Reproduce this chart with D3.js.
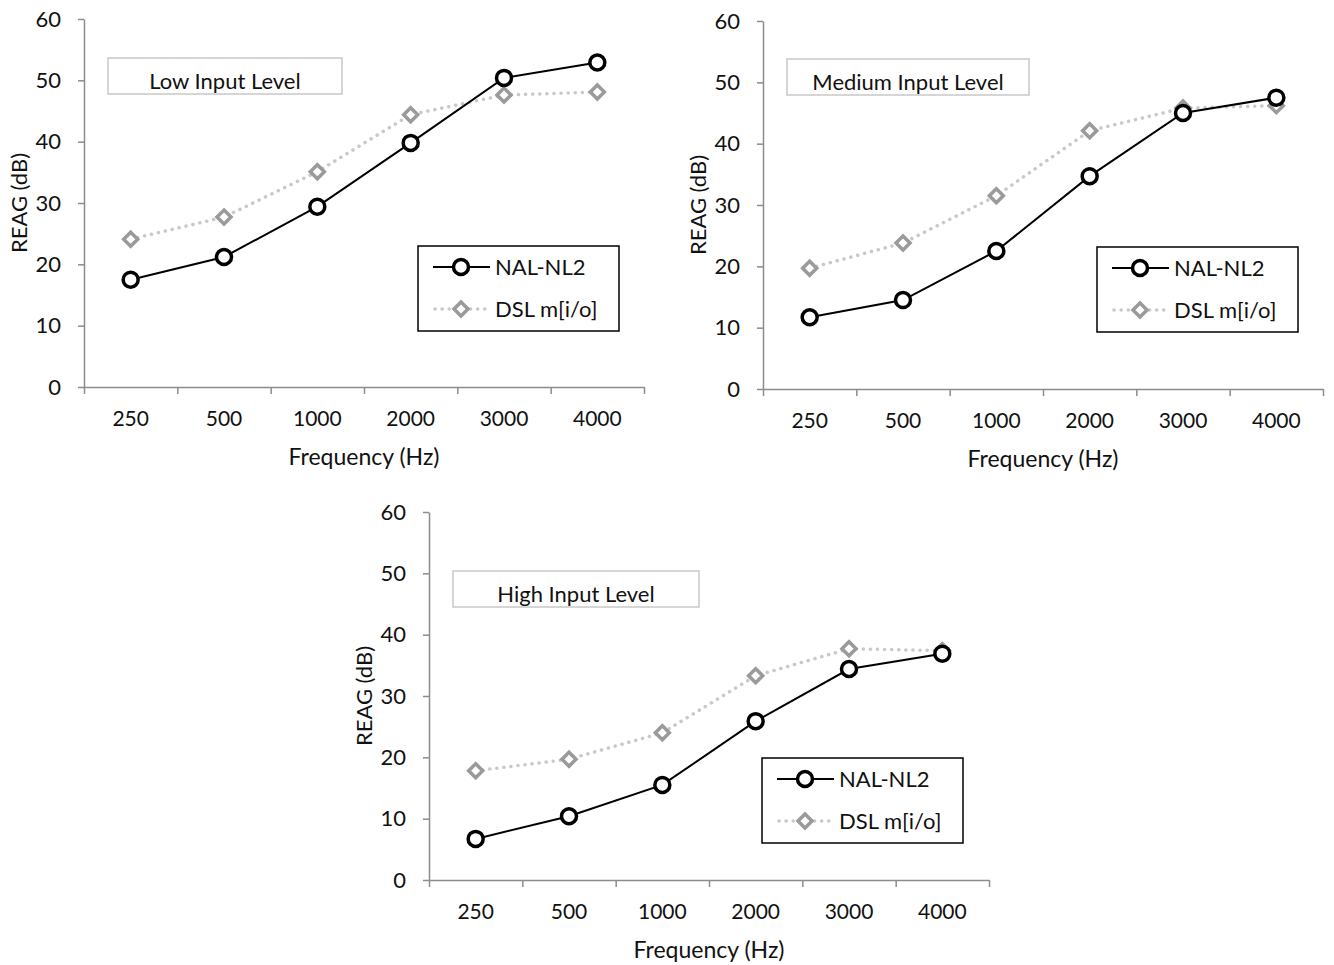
<!DOCTYPE html>
<html>
<head>
<meta charset="utf-8">
<script src="https://cdn.jsdelivr.net/npm/d3@7"></script>
<style>
  body { margin: 0; background: #fff; }
  text { font-family: Lato, "Open Sans", sans-serif; fill: #111; }
</style>
</head>
<body>
<div class="svg-container"></div>
<script>
// data
const frequencies = ["250", "500", "1000", "2000", "3000", "4000"];
const yTicks = [0, 10, 20, 30, 40, 50, 60];
const seriesNames = ["NAL-NL2", "DSL m[i/o]"];

const lowNal = [17.5, 21.2, 29.4, 39.8, 50.4, 52.9];
const lowDsl = [24.1, 27.7, 35.1, 44.4, 47.6, 48.1];
const mediumNal = [11.7, 14.5, 22.5, 34.7, 45.0, 47.5];
const mediumDsl = [19.7, 23.8, 31.5, 42.1, 45.8, 46.2];
const highNal = [6.7, 10.4, 15.5, 25.9, 34.4, 36.9];
const highDsl = [17.8, 19.7, 24.0, 33.3, 37.7, 37.4];

const panelTitles = ["Low Input Level", "Medium Input Level", "High Input Level"];

// panel layout: plot area origin, title box and legend offsets
const panels = [
  { left: 84, top: 19, title: panelTitles[0], nal: lowNal, dsl: lowDsl,
    box: { x: 24, y: 39, w: 234 }, legend: { x: 334, y: 227 } },
  { left: 763, top: 21, title: panelTitles[1], nal: mediumNal, dsl: mediumDsl,
    box: { x: 24, y: 38, w: 242 }, legend: { x: 334, y: 226 } },
  { left: 429, top: 512, title: panelTitles[2], nal: highNal, dsl: highDsl,
    box: { x: 24, y: 59, w: 246 }, legend: { x: 333, y: 246 } },
];
const width = 560;
const height = 368;

const svg = d3
  .select(".svg-container")
  .append("svg")
  .attr("width", 1334)
  .attr("height", 965);

const axisColor = "#8c8c8c";
const font = "Lato, 'Open Sans', sans-serif";

function drawPanel(p) {
  const g = svg.append("g").attr("transform", `translate(${p.left},${p.top})`);

  const xBand = d3.scaleBand().domain(frequencies).range([0, width]);
  const yScale = d3.scaleLinear().domain([0, 60]).range([height, 0]);
  const xPos = (i) => xBand(frequencies[i]) + xBand.bandwidth() / 2;

  // y axis
  const yAxis = g
    .append("g")
    .call(d3.axisLeft(yScale).tickValues(yTicks).tickSize(6).tickSizeOuter(0).tickPadding(17));
  yAxis.select(".domain").attr("stroke", axisColor).attr("stroke-width", 1.5);
  yAxis.selectAll(".tick line").attr("stroke", axisColor).attr("stroke-width", 1.5);
  yAxis
    .selectAll(".tick text")
    .style("font-size", "22px")
    .style("font-family", font)
    .attr("fill", "#111");

  // x axis: ticks on band boundaries, labels at centres
  const boundary = d3.scaleLinear().domain([0, frequencies.length]).range([0, width]);
  const xAxis = g
    .append("g")
    .attr("transform", `translate(0,${height})`)
    .call(
      d3.axisBottom(boundary)
        .tickValues(d3.range(frequencies.length + 1))
        .tickSize(7)
        .tickSizeOuter(0)
        .tickFormat("")
    );
  xAxis.select(".domain").attr("stroke", axisColor).attr("stroke-width", 1.5);
  xAxis.selectAll(".tick line").attr("stroke", axisColor).attr("stroke-width", 1.5);

  const xLabels = g
    .append("g")
    .attr("transform", `translate(0,${height})`)
    .call(d3.axisBottom(xBand).tickSize(0).tickPadding(24));
  xLabels.select(".domain").remove();
  xLabels
    .selectAll(".tick text")
    .style("font-size", "21px")
    .style("font-family", font)
    .attr("fill", "#111");

  // axis titles
  g.append("text")
    .attr("x", width / 2)
    .attr("y", height + 78)
    .attr("text-anchor", "middle")
    .style("font-size", "23px")
    .text("Frequency (Hz)");

  g.append("text")
    .attr("transform", `translate(-57,${height / 2}) rotate(-90)`)
    .attr("text-anchor", "middle")
    .style("font-size", "22px")
    .text("REAG (dB)");

  // title box
  g.append("rect")
    .attr("x", p.box.x)
    .attr("y", p.box.y)
    .attr("width", p.box.w)
    .attr("height", 36)
    .attr("fill", "#fff")
    .attr("stroke", "#c8c8c8")
    .attr("stroke-width", 1.5);
  g.append("text")
    .attr("x", p.box.x + p.box.w / 2)
    .attr("y", p.box.y + 31)
    .attr("text-anchor", "middle")
    .style("font-size", "22px")
    .text(p.title);

  // DSL line (dotted grey)
  const line = d3
    .line()
    .x((d, i) => xPos(i))
    .y((d) => yScale(d));

  g.append("path")
    .datum(p.dsl)
    .attr("fill", "none")
    .attr("stroke", "#c9c9c9")
    .attr("stroke-width", 3.5)
    .attr("stroke-dasharray", "0.1,7")
    .attr("stroke-linecap", "round")
    .attr("d", line);

  // NAL line (solid black)
  g.append("path")
    .datum(p.nal)
    .attr("fill", "none")
    .attr("stroke", "#000")
    .attr("stroke-width", 2)
    .attr("d", line);

  const diamond = (cx, cy, s) =>
    `M${cx},${cy - s}L${cx + s},${cy}L${cx},${cy + s}L${cx - s},${cy}Z`;

  g.selectAll(".dsl-pt")
    .data(p.dsl)
    .enter()
    .append("path")
    .attr("class", "dsl-pt")
    .attr("d", (d, i) => diamond(xPos(i), yScale(d), 7))
    .attr("fill", "#fff")
    .attr("stroke", "#9a9a9a")
    .attr("stroke-width", 3.5);

  g.selectAll(".nal-pt")
    .data(p.nal)
    .enter()
    .append("circle")
    .attr("class", "nal-pt")
    .attr("cx", (d, i) => xPos(i))
    .attr("cy", (d) => yScale(d))
    .attr("r", 7.5)
    .attr("fill", "#fff")
    .attr("stroke", "#000")
    .attr("stroke-width", 3.5);

  // legend
  const lg = g.append("g").attr("transform", `translate(${p.legend.x},${p.legend.y})`);
  lg.append("rect")
    .attr("width", 201)
    .attr("height", 85)
    .attr("fill", "#fff")
    .attr("stroke", "#000")
    .attr("stroke-width", 1.5);

  lg.append("line")
    .attr("x1", 15).attr("x2", 72).attr("y1", 21).attr("y2", 21)
    .attr("stroke", "#000").attr("stroke-width", 2);
  lg.append("circle")
    .attr("cx", 43).attr("cy", 21).attr("r", 7.5)
    .attr("fill", "#fff").attr("stroke", "#000").attr("stroke-width", 3.5);
  lg.append("text").attr("x", 77).attr("y", 29).style("font-size", "22px").text(seriesNames[0]);

  lg.append("line")
    .attr("x1", 17).attr("x2", 72).attr("y1", 63).attr("y2", 63)
    .attr("stroke", "#c9c9c9").attr("stroke-width", 3.5)
    .attr("stroke-dasharray", "0.1,7").attr("stroke-linecap", "round");
  lg.append("path")
    .attr("d", diamond(43, 63, 7))
    .attr("fill", "#fff").attr("stroke", "#9a9a9a").attr("stroke-width", 3.5);
  lg.append("text").attr("x", 77).attr("y", 71).style("font-size", "22px").text(seriesNames[1]);
}

panels.forEach(drawPanel);
</script>
</body>
</html>
